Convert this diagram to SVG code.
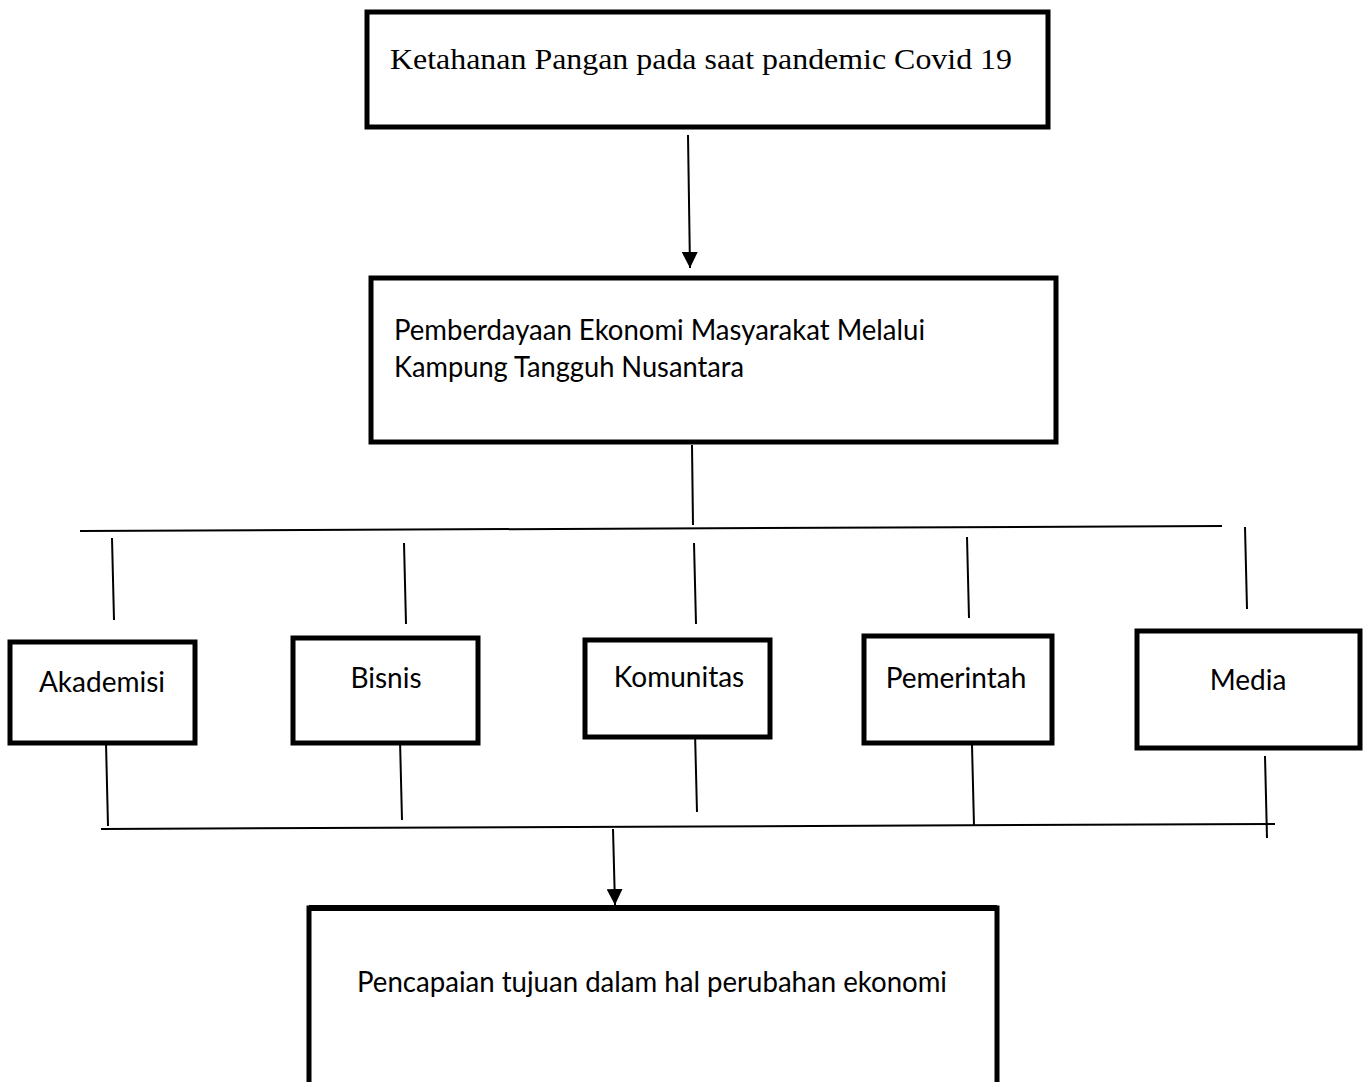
<svg xmlns="http://www.w3.org/2000/svg" width="1368" height="1082" viewBox="0 0 1368 1082">
<style>
.box{fill:#fff;stroke:#000;stroke-width:5}
.ln{stroke:#000;stroke-width:2;fill:none}
.ser{font-family:"Liberation Serif","Times New Roman",serif;font-size:30px;fill:#000}
.sans{font-family:Lato,"Open Sans",sans-serif;font-size:28px;fill:#000}
</style>
<defs>
<marker id="ah" viewBox="0 0 10 10" refX="10" refY="5" markerWidth="16" markerHeight="16" markerUnits="userSpaceOnUse" orient="auto">
<path d="M0,0 L10,5 L0,10 Z" fill="#000"/>
</marker>
</defs>
<rect width="1368" height="1082" fill="#fff"/>
<g id="connectors">
<line class="ln" x1="688" y1="135" x2="690" y2="268" marker-end="url(#ah)"/>
<line class="ln" x1="692" y1="445" x2="693" y2="525"/>
<line class="ln" x1="80" y1="531" x2="1222" y2="526" stroke-width="2.5"/>
<line class="ln" x1="112" y1="538" x2="114" y2="620"/>
<line class="ln" x1="404" y1="543" x2="406" y2="624"/>
<line class="ln" x1="694" y1="543" x2="696" y2="624"/>
<line class="ln" x1="967" y1="537" x2="969" y2="618"/>
<line class="ln" x1="1245" y1="527" x2="1247" y2="609"/>
<line class="ln" x1="106" y1="743" x2="108" y2="826"/>
<line class="ln" x1="400" y1="740" x2="402" y2="820"/>
<line class="ln" x1="695" y1="732" x2="697" y2="812"/>
<line class="ln" x1="972" y1="745" x2="974" y2="826"/>
<line class="ln" x1="1265" y1="756" x2="1267" y2="838"/>
<line class="ln" x1="101" y1="829" x2="1275" y2="824" stroke-width="2.5"/>
<line class="ln" x1="613" y1="829" x2="615" y2="905" marker-end="url(#ah)"/>
</g>
<g id="n-top">
<rect class="box" x="367" y="12" width="681" height="115"/>
<text class="ser" x="390" y="69" textLength="622" lengthAdjust="spacingAndGlyphs">Ketahanan Pangan pada saat pandemic Covid 19</text>
</g>
<g id="n-pemberdayaan">
<rect class="box" x="371" y="278" width="685" height="164"/>
<text class="sans" x="394" y="340" textLength="531" lengthAdjust="spacingAndGlyphs">Pemberdayaan Ekonomi Masyarakat Melalui</text>
<text class="sans" x="394" y="377" textLength="350" lengthAdjust="spacingAndGlyphs">Kampung Tangguh Nusantara</text>
</g>
<g id="n-akademisi">
<rect class="box" x="10" y="642" width="185" height="101"/>
<text class="sans" x="102" y="692" text-anchor="middle">Akademisi</text>
</g>
<g id="n-bisnis">
<rect class="box" x="293" y="638" width="185" height="105"/>
<text class="sans" x="386" y="688" text-anchor="middle">Bisnis</text>
</g>
<g id="n-komunitas">
<rect class="box" x="585" y="640" width="185" height="97"/>
<text class="sans" x="679" y="687" text-anchor="middle">Komunitas</text>
</g>
<g id="n-pemerintah">
<rect class="box" x="864" y="636" width="188" height="107"/>
<text class="sans" x="956" y="688" text-anchor="middle">Pemerintah</text>
</g>
<g id="n-media">
<rect class="box" x="1137" y="631" width="223" height="117"/>
<text class="sans" x="1248" y="690" text-anchor="middle">Media</text>
</g>
<g id="n-pencapaian">
<rect class="box" x="309" y="908" width="688" height="180" stroke-width="4"/>
<line x1="309" y1="908" x2="997" y2="908" stroke="#000" stroke-width="6"/>
<text class="sans" x="357" y="992" textLength="590" lengthAdjust="spacingAndGlyphs">Pencapaian tujuan dalam hal perubahan ekonomi</text>
</g>
</svg>
